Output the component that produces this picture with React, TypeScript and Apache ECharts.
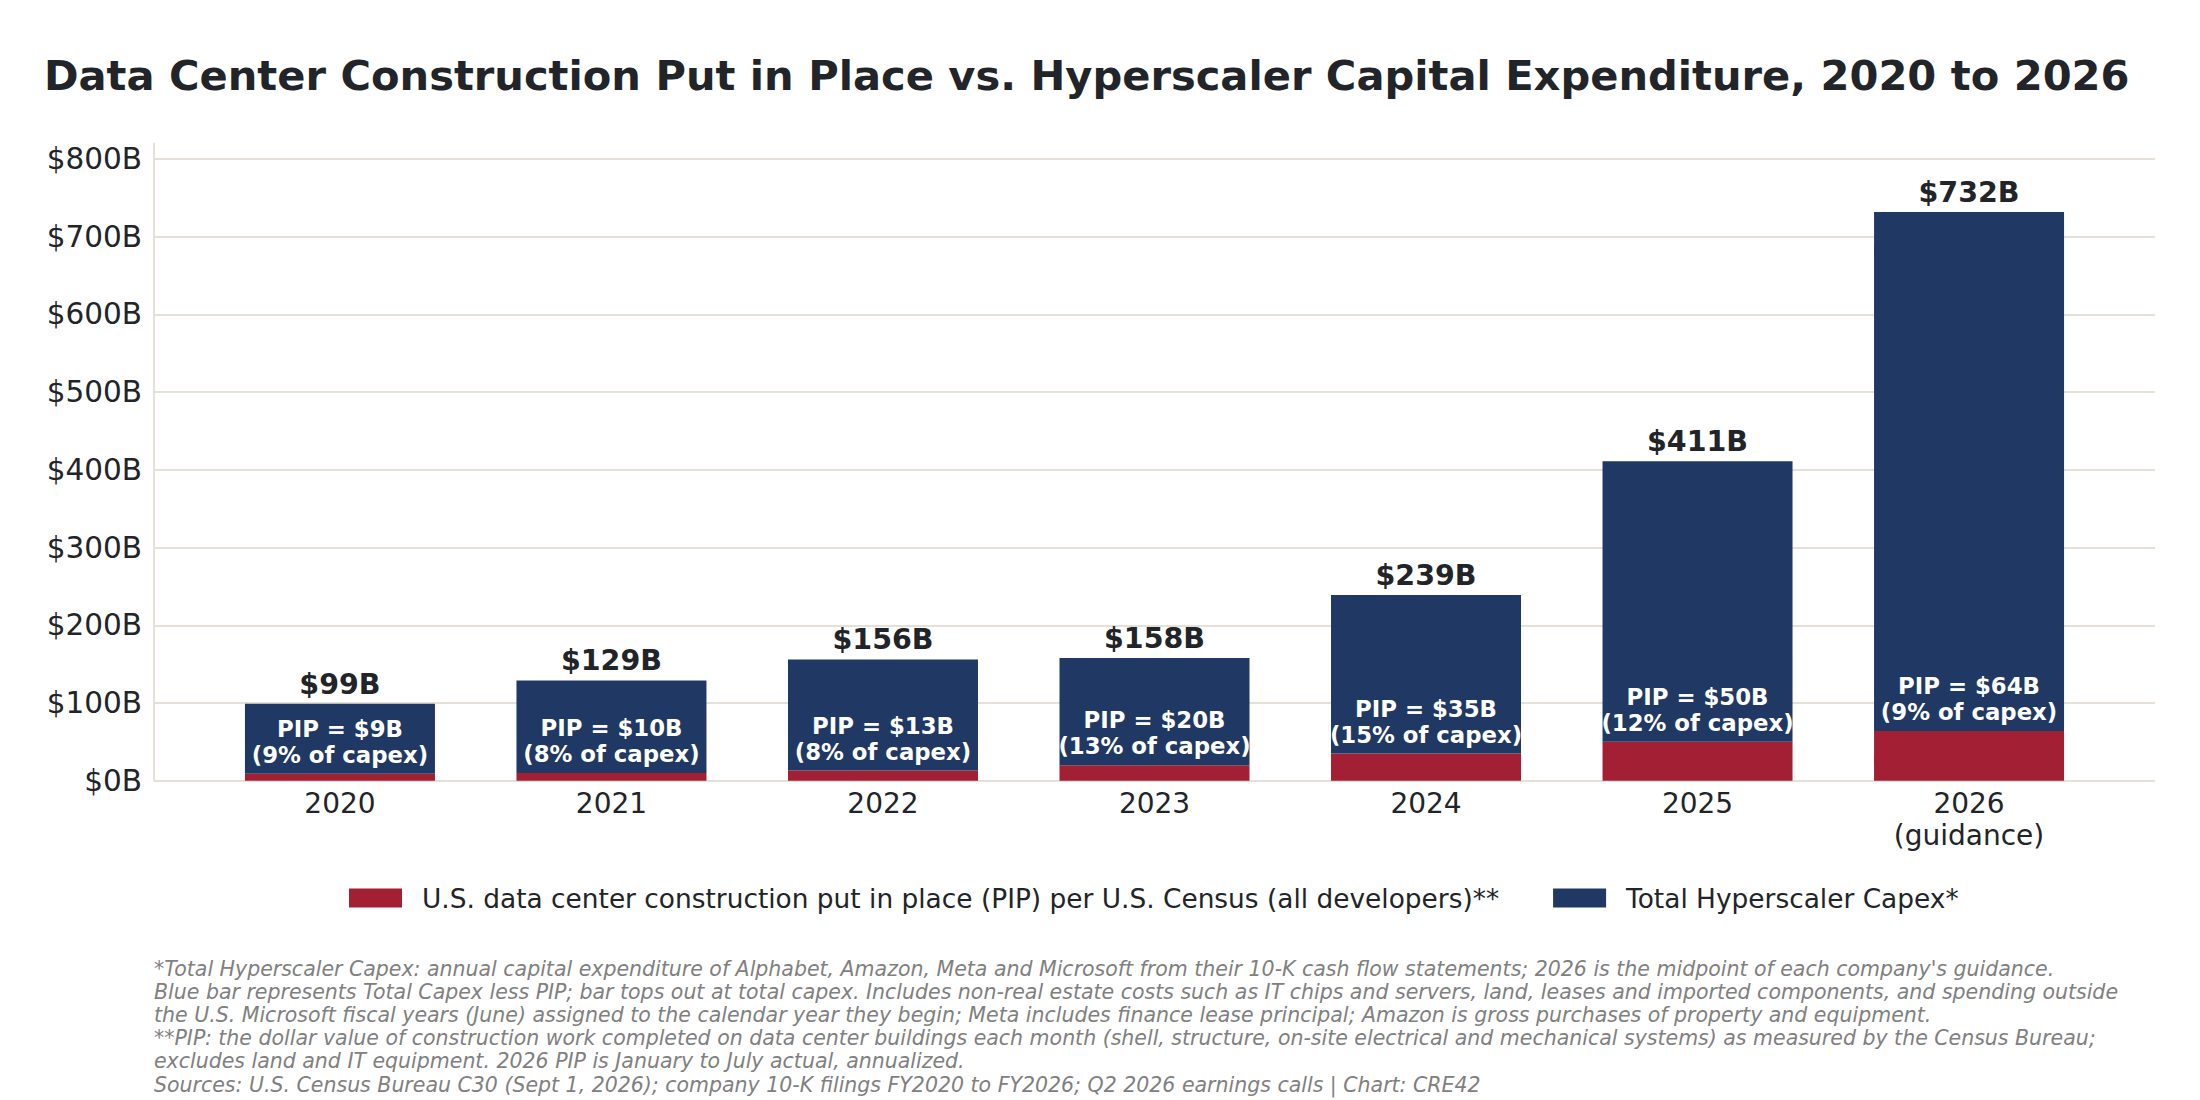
import { useEffect, useRef } from 'react'
import * as echarts from 'echarts'

// 数据
const years = ['2020', '2021', '2022', '2023', '2024', '2025', '2026\n(guidance)']
const totalCapex = [99, 129, 156, 158, 239, 411, 732]
const pip = [9, 10, 13, 20, 35, 50, 64]
const pipShare = [9, 8, 8, 13, 15, 12, 9]
const yTickMax = 800
const yTickStep = 100

const pipName = 'U.S. data center construction put in place (PIP) per U.S. Census (all developers)**'
const capexName = 'Total Hyperscaler Capex*'

const footnotes = [
  "*Total Hyperscaler Capex: annual capital expenditure of Alphabet, Amazon, Meta and Microsoft from their 10-K cash flow statements; 2026 is the midpoint of each company's guidance.",
  'Blue bar represents Total Capex less PIP; bar tops out at total capex. Includes non-real estate costs such as IT chips and servers, land, leases and imported components, and spending outside',
  'the U.S. Microsoft fiscal years (June) assigned to the calendar year they begin; Meta includes finance lease principal; Amazon is gross purchases of property and equipment.',
  '**PIP: the dollar value of construction work completed on data center buildings each month (shell, structure, on-site electrical and mechanical systems) as measured by the Census Bureau;',
  'excludes land and IT equipment. 2026 PIP is January to July actual, annualized.',
  'Sources: U.S. Census Bureau C30 (Sept 1, 2026); company 10-K filings FY2020 to FY2026; Q2 2026 earnings calls | Chart: CRE42'
]

const NAVY = '#203864'
const RED = '#a31f34'
const TEXT = '#212529'
const GRID = '#e6e1d7'
const FONT = 'DejaVu Sans'

const App: React.FC = () => {
  const chartRef = useRef<HTMLDivElement | null>(null)

  useEffect(() => {
    if (chartRef.current === null) return
    const chart = echarts.init(chartRef.current, null, { renderer: 'svg' })

    const option = {
      animation: false,
      textStyle: { fontFamily: FONT },
      title: {
        text: 'Data Center Construction Put in Place vs. Hyperscaler Capital Expenditure, 2020 to 2026',
        left: 44,
        top: 54,
        padding: 0,
        textStyle: { fontSize: 41.6, fontWeight: 'bold', color: TEXT, fontFamily: FONT }
      },
      legend: {
        data: [pipName, capexName],
        left: 349,
        top: 885,
        padding: 0,
        itemWidth: 53,
        itemHeight: 19,
        itemGap: 54,
        icon: 'rect',
        textStyle: { fontSize: 26.4, color: TEXT, fontFamily: FONT, padding: [0, 0, 0, 15] }
      },
      grid: [
        // 网格线 + 刻度
        { left: 154, right: 45, top: 159, bottom: 319.3 },
        // 柱子
        { left: 204.2, right: 95.2, top: 143.5, bottom: 319.3 },
        // 左轴线
        { left: 154, right: 45, top: 143.5, bottom: 319.3 }
      ],
      xAxis: [
        { type: 'value', gridIndex: 0, show: false, min: 0, max: 1 },
        {
          type: 'category',
          gridIndex: 1,
          data: years,
          axisLine: { show: false },
          axisTick: { show: false },
          axisLabel: { fontSize: 28, color: TEXT, margin: 7, lineHeight: 32, fontFamily: FONT }
        },
        { type: 'value', gridIndex: 2, show: false, min: 0, max: 1 }
      ],
      yAxis: [
        {
          type: 'value',
          gridIndex: 0,
          min: 0,
          max: yTickMax,
          interval: yTickStep,
          axisLine: { show: false },
          axisTick: { show: false },
          axisLabel: {
            fontSize: 29.5,
            color: TEXT,
            margin: 12,
            fontFamily: FONT,
            formatter: (v: number) => `$${v}B`
          },
          splitLine: { show: true, lineStyle: { color: GRID, width: 2 } }
        },
        { type: 'value', gridIndex: 1, min: 0, max: 820, show: false },
        {
          type: 'value',
          gridIndex: 2,
          min: 0,
          max: 820,
          axisLine: { show: true, lineStyle: { color: GRID, width: 2 } },
          axisTick: { show: false },
          axisLabel: { show: false },
          splitLine: { show: false }
        }
      ],
      series: [
        {
          name: pipName,
          type: 'bar',
          xAxisIndex: 1,
          yAxisIndex: 1,
          stack: 'capex',
          barWidth: 190,
          barGap: '-100%',
          itemStyle: { color: RED },
          data: pip
        },
        {
          name: capexName,
          type: 'bar',
          xAxisIndex: 1,
          yAxisIndex: 1,
          stack: 'capex',
          barWidth: 190,
          barGap: '-100%',
          itemStyle: { color: NAVY },
          // 蓝色部分 = 总资本支出 - PIP
          data: totalCapex.map((t, i) => t - pip[i]),
          label: {
            show: true,
            position: 'insideBottom',
            distance: 6,
            fontSize: 22.8,
            lineHeight: 26,
            fontWeight: 'bold',
            color: '#ffffff',
            fontFamily: FONT,
            formatter: (p: any) => `PIP = $${pip[p.dataIndex]}B\n(${pipShare[p.dataIndex]}% of capex)`
          }
        },
        {
          // 顶部总额标签（透明柱）
          type: 'bar',
          xAxisIndex: 1,
          yAxisIndex: 1,
          barWidth: 190,
          barGap: '-100%',
          silent: true,
          itemStyle: { color: 'rgba(0,0,0,0)' },
          data: totalCapex,
          label: {
            show: true,
            position: 'top',
            distance: 5,
            fontSize: 28.5,
            fontWeight: 'bold',
            color: TEXT,
            fontFamily: FONT,
            formatter: (p: any) => `$${totalCapex[p.dataIndex]}B`
          }
        }
      ],
      graphic: [
        {
          type: 'text',
          left: 154,
          top: 957,
          style: {
            text: footnotes.join('\n'),
            fontSize: 20.5,
            lineHeight: 23.2,
            fontStyle: 'italic',
            fontFamily: FONT,
            fill: '#808080'
          }
        }
      ]
    }

    chart.setOption(option)
    return () => {
      chart.dispose()
    }
  }, [])

  return (
    <div
      ref={chartRef}
      style={{ position: 'fixed', left: 0, top: 0, width: 2200, height: 1100, background: '#ffffff' }}
    ></div>
  )
}

export default App
